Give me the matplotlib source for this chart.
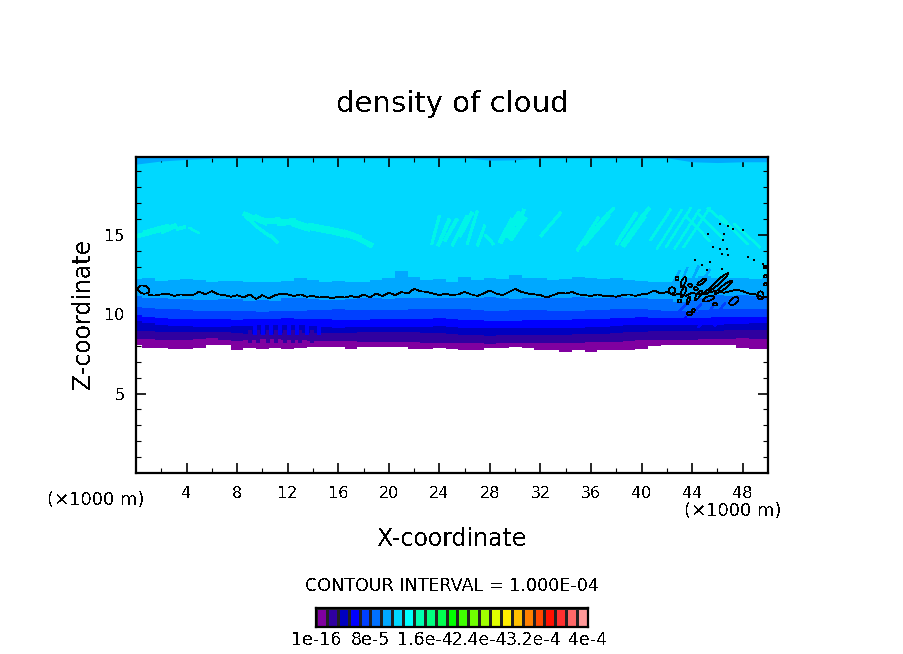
import matplotlib
matplotlib.use("Agg")
import numpy as np
import matplotlib.pyplot as plt
from matplotlib.patches import Ellipse

plt.rcParams['text.antialiased'] = False

# 25 colour cells of the scale
cell_colors = ['#8000a0', '#3000a0', '#0000c0', '#0000ff', '#0040ff', '#0070ff', '#00a8ff', '#00d8ff', '#00ffff',
               '#00ffb0', '#00ff80', '#00ff50', '#00ff00', '#40ff00', '#70ff00', '#a0ff00', '#e0ff00', '#ffee00',
               '#ffc000', '#ff8000', '#ff4800', '#ff1000', '#ff3030', '#ff6868', '#ff9898']
scale_ticks = [0, 5, 10, 15, 20, 25]
scale_labels = ['1e-16', '8e-5', '1.6e-4', '2.4e-4', '3.2e-4', '4e-4']

# lower edge of the cloud, one value per km
edge_km = np.arange(0, 51)
edge_z = [8.05, 7.86, 7.88, 7.84, 7.84, 7.88, 8.05, 8.05, 7.76, 7.86, 7.80, 7.86, 7.80, 7.86, 7.95, 7.95, 7.95,
          7.80, 7.95, 7.95, 7.95, 7.95, 7.80, 7.80, 7.86, 7.80, 7.76, 7.76, 7.86, 7.90, 7.92, 7.86, 7.76, 7.76,
          7.62, 7.76, 7.65, 7.76, 7.76, 7.76, 7.80, 8.00, 8.05, 8.05, 8.05, 8.05, 8.05, 8.05, 7.90, 7.84, 7.84]

# top of each band; the first ones have a value per 2 km, the jagged last two one per km
band_tops = [
    [8.45, 8.40, 8.35, 8.50, 8.30, 8.45, 8.40, 8.30, 8.30, 8.28, 8.25, 8.22, 8.20, 8.18, 8.15, 8.18, 8.20, 8.20,
     8.22, 8.25, 8.35, 8.38, 8.40, 8.42, 8.48, 8.45],
    [8.95, 8.90, 8.85, 8.90, 8.80, 8.75, 8.80, 8.80, 8.82, 8.85, 8.85, 8.85, 8.82, 8.70, 8.65, 8.68, 8.70, 8.72,
     8.75, 8.80, 8.90, 8.95, 8.95, 8.95, 9.00, 9.00],
    [9.55, 9.30, 9.25, 9.20, 9.25, 9.30, 9.35, 9.25, 9.15, 9.20, 9.20, 9.20, 9.25, 9.15, 9.10, 9.12, 9.12, 9.12,
     9.20, 9.25, 9.35, 9.30, 9.35, 9.35, 9.40, 9.45],
    [9.95, 9.75, 9.70, 9.70, 9.65, 9.70, 9.75, 9.70, 9.65, 9.65, 9.70, 9.70, 9.75, 9.65, 9.60, 9.60, 9.65, 9.65,
     9.70, 9.75, 9.80, 9.75, 9.75, 9.80, 9.80, 9.85],
    [10.45, 10.35, 10.25, 10.20, 10.20, 10.15, 10.20, 10.25, 10.30, 10.25, 10.25, 10.30, 10.35, 10.30, 10.20, 10.25,
     10.25, 10.20, 10.25, 10.30, 10.30, 10.20, 10.15, 10.35, 10.30, 10.30],
    [11.15, 11.05, 11.00, 10.95, 10.95, 10.90, 10.90, 10.95, 10.95, 10.85, 10.90, 10.85, 11.05, 11.00, 10.95, 10.90,
     10.90, 10.95, 11.00, 11.05, 10.95, 11.00, 11.00, 11.05, 11.00, 11.05, 11.05, 11.00, 11.10, 11.00, 10.95, 11.05,
     11.05, 11.00, 11.05, 11.10, 11.05, 11.00, 11.10, 11.05, 11.00, 10.95, 10.95, 10.80, 10.90, 11.05, 11.20, 11.15,
     11.20, 11.15, 11.15],
    [12.20, 12.25, 12.10, 12.15, 12.20, 12.15, 12.05, 12.10, 12.10, 12.00, 12.05, 12.00, 12.10, 12.30, 12.15, 12.05,
     12.10, 12.00, 12.05, 12.15, 12.30, 12.70, 12.35, 12.15, 12.20, 12.05, 12.35, 12.15, 12.25, 12.20, 12.45, 12.30,
     12.30, 12.15, 12.20, 12.35, 12.30, 12.20, 12.30, 12.15, 12.10, 12.05, 12.00, 12.10, 12.30, 12.40, 12.30, 12.25,
     12.30, 12.20, 12.25],
]
band_colors = cell_colors[:7]

# strip of the same blue along the top of the frame, one value per 2 km
strip_km = np.arange(0, 51, 2)
strip_z = [19.45, 19.65, 19.75, 19.82, 19.85, 19.85, 19.85, 19.85, 19.85, 19.85, 19.85, 19.85, 19.85, 19.85, 19.70,
           19.72, 19.85, 19.85, 19.85, 19.85, 19.85, 19.85, 19.60, 19.55, 19.60, 19.60]

# light streaks in the upper part: km, z of both ends and width in points
streak_x0 = [0.0, 0.6, 2.0, 3.2, 4.2, 8.5, 9.4, 10.2, 11.2, 12.4, 13.6, 15.0, 16.4, 17.6, 8.6, 9.4, 10.6,
             23.4, 23.9, 24.4, 25.0, 25.6, 26.2, 27.0, 27.6, 28.8, 29.2, 29.6, 30.1, 32.0, 34.9, 35.4, 36.0, 38.0,
             38.5, 39.0, 40.7, 41.2, 41.9, 42.6, 43.3, 43.6, 44.4, 45.2, 46.2, 47.3]
streak_z0 = [14.9, 15.1, 15.2, 15.35, 15.45, 16.35, 16.1, 15.85, 15.75, 15.75, 15.55, 15.35, 15.15, 14.75, 16.2, 15.6,
             15.0, 14.4, 14.3, 14.6, 14.3, 14.9, 14.4, 14.3, 15.0, 14.5, 14.9, 14.7, 15.2, 14.9, 14.0, 14.4, 15.0, 14.4,
             14.3, 15.0, 14.65, 14.1, 14.2, 14.1, 14.2, 16.1, 16.4, 16.7, 16.2, 15.7]
streak_x1 = [1.9, 2.6, 3.2, 3.9, 5.0, 9.4, 10.4, 11.4, 12.6, 13.8, 15.2, 16.6, 17.8, 18.7, 9.6, 10.6, 11.2,
             24.0, 24.8, 25.4, 26.2, 26.6, 27.0, 27.6, 28.3, 29.8, 30.4, 30.8, 30.7, 33.6, 36.6, 37.4, 37.8, 39.6,
             40.2, 40.6, 42.3, 43.2, 43.9, 44.6, 45.4, 45.4, 46.4, 47.4, 48.4, 49.4]
streak_z1 = [15.3, 15.55, 15.6, 15.5, 15.1, 16.05, 15.75, 15.9, 15.85, 15.4, 15.3, 15.05, 14.75, 14.3, 15.5, 14.9,
             14.5, 16.2, 16.0, 16.0, 16.2, 16.4, 16.5, 15.6, 14.4, 16.0, 16.4, 16.1, 16.6, 16.4, 16.1, 16.3, 16.7, 16.4,
             16.2, 16.7, 16.6, 16.6, 16.7, 16.6, 16.7, 14.6, 14.8, 15.2, 14.4, 14.2]
streak_w = [2.5, 3, 3, 2, 1, 2.5, 4, 4, 4, 4.5, 4.5, 4.5, 4, 3, 1.5, 1.5, 1.2,
            1.5, 2, 2, 1.5, 2, 1.5, 1.5, 1.5, 3, 4, 3, 2, 1.5, 1.5, 3, 1.5, 2,
            3.5, 2, 1.2, 1, 1, 1, 1, 1, 1, 1, 1, 1]

# ripples in the low bands near 8-15 km
purple_spike_km = [9.0, 9.66, 10.45, 11.1, 11.76, 12.4, 13.0, 13.9]
blue_spike_km = [9.4, 10.05, 10.7, 11.37, 12.1, 12.7, 13.5, 14.5]

# ripples near the right side: km, z of both ends, band colour index
ripple_x0 = [42.5, 43.2, 44.0, 44.8, 43.0, 44.0, 45.2, 46.0, 43.0, 44.5, 45.8]
ripple_z0 = [12.0, 12.1, 12.2, 12.1, 10.2, 10.0, 9.9, 10.1, 9.4, 9.2, 9.3]
ripple_x1 = [43.0, 43.6, 44.5, 45.4, 43.6, 44.7, 45.7, 46.6, 43.5, 45.0, 46.2]
ripple_z1 = [12.7, 12.9, 13.0, 12.8, 10.7, 10.6, 10.6, 10.7, 9.8, 9.6, 9.7]
ripple_c = [6, 6, 6, 6, 4, 4, 4, 4, 3, 3, 3]

# the black contour
line_km = np.arange(1, 50.5, 0.5)
line_z = [11.20, 11.18, 11.25, 11.30, 11.15, 11.25, 11.20, 11.20, 11.42, 11.25, 11.45, 11.25, 11.20, 11.10, 11.20,
          11.05, 11.25, 10.95, 11.20, 11.00, 11.20, 11.30, 11.25, 11.15, 11.25, 11.10, 11.15, 11.05, 11.10, 11.00,
          11.10, 11.05, 11.15, 11.05, 11.25, 11.05, 11.30, 11.15, 11.35, 11.20, 11.40, 11.30, 11.60, 11.45, 11.40,
          11.30, 11.20, 11.30, 11.20, 11.25, 11.40, 11.25, 11.15, 11.30, 11.50, 11.30, 11.20, 11.40, 11.60, 11.40,
          11.30, 11.25, 11.20, 11.05, 11.20, 11.35, 11.30, 11.40, 11.25, 11.20, 11.15, 11.25, 11.15, 11.15, 11.10,
          11.20, 11.25, 11.15, 11.25, 11.30, 11.50, 11.30, 11.40, 11.20, 11.30, 11.15, 11.35, 11.25, 11.30, 11.40,
          11.50, 11.35, 11.45, 11.55, 11.45, 11.30, 11.25, 11.10, 11.05]

# closed contour loops: centre, size in km, angle
loop_x = [0.6, 46.08, 46.5, 44.76, 43.3, 42.8, 43.84, 44.29, 42.4, 43.3, 44.5, 45.3, 47.3, 45.8, 43.7, 43.0, 43.8, 44.1,
          49.4, 49.8, 49.8, 49.8, 45.16]
loop_z = [11.55, 12.03, 11.7, 12.03, 12.03, 12.24, 11.82, 11.61, 11.5, 11.4, 11.19, 10.98, 10.83, 10.62, 10.88, 10.83,
          10.04, 10.25, 11.19, 12.97, 12.38, 11.88, 11.4]
loop_w = [0.5, 1.9, 1.6, 0.8, 0.7, 0.25, 0.3, 0.3, 0.5, 0.7, 0.8, 0.9, 0.8, 0.4, 0.5, 0.25, 0.4, 0.2, 0.5, 0.3, 0.3, 0.3, 0.5]
loop_h = [0.9, 0.25, 0.25, 0.2, 0.3, 0.2, 0.2, 0.2, 0.4, 0.3, 0.25, 0.3, 0.4, 0.15, 0.2, 0.2, 0.2, 0.2, 0.5, 0.15, 0.15, 0.15, 0.2]
loop_a = [80, 35, 30, 30, 60, 0, 0, 0, 0, 60, 45, 15, 25, 0, 70, 0, 0, 0, 0, 0, 0, 0, 30]

# tiny specks above the loops
dot_km = [46.21, 46.87, 47.27, 48.06, 45.24, 46.48, 46.42, 45.68, 46.21, 46.74, 46.87, 46.34, 48.45, 48.9, 49.64, 44.23,
          45.42, 44.76, 45.16, 46.34]
dot_z = [15.66, 15.53, 15.38, 15.28, 15.03, 15.07, 14.65, 14.23, 14.13, 14.13, 13.71, 13.81, 13.6, 13.39, 13.18, 13.43,
         13.29, 13.08, 12.76, 12.87]

W, H = 904, 654
fig = plt.figure(figsize=(W / 100, H / 100), dpi=100)
ax = fig.add_axes([136 / W, 1 - 473 / H, 632 / W, 316 / H])
ax.set_xlim(0, 50)
ax.set_ylim(0, 19.9)

# bands are painted bottom up, each one reaching to the top
top = 19.9
ax.fill_between(edge_km, edge_z, top, color=cell_colors[7], lw=0, step='mid', antialiased=False, zorder=1)
for i, tops in enumerate(band_tops):
    band_km = np.linspace(0, 50, len(tops))
    ax.fill_between(edge_km, edge_z, np.interp(edge_km, band_km, tops), color=band_colors[i], lw=0, step='mid',
                    antialiased=False, zorder=3 - i * 0.1)
ax.fill_between(strip_km, strip_z, top, color=band_colors[6], lw=0, antialiased=False, zorder=3)

for x0, z0, x1, z1, w in zip(streak_x0, streak_z0, streak_x1, streak_z1, streak_w):
    ax.plot([x0, x1], [z0, z1], color='#00f4e8', lw=w, antialiased=False, solid_capstyle='butt', zorder=4)

ax.vlines(purple_spike_km, 8.2, 9.0, color=cell_colors[1], lw=1.5, antialiased=False, zorder=4)
ax.vlines(blue_spike_km, 8.7, 9.5, color=cell_colors[3], lw=1.5, antialiased=False, zorder=4)
for x0, z0, x1, z1, c in zip(ripple_x0, ripple_z0, ripple_x1, ripple_z1, ripple_c):
    ax.plot([x0, x1], [z0, z1], color=cell_colors[c], lw=1, antialiased=False, zorder=4)

ax.plot(line_km, line_z, color='k', lw=0.5, antialiased=False, zorder=5)
for x, z, w, h, a in zip(loop_x, loop_z, loop_w, loop_h, loop_a):
    ax.add_patch(Ellipse((x, z), w, h, angle=a, fill=False, ec='k', lw=0.5, antialiased=False, zorder=5))
ax.scatter(dot_km, dot_z, s=3, c='k', marker='s', lw=0, antialiased=False, zorder=5)

ax.set_xticks(np.arange(4, 49, 4))
ax.set_xticks(np.arange(2, 50, 2), minor=True)
ax.set_yticks([5, 10, 15])
ax.set_yticks(np.arange(1, 20, 1), minor=True)
ax.tick_params(which='major', direction='in', length=7, width=1.2, top=True, right=True, labelsize=11.5, pad=9)
ax.tick_params(which='minor', direction='in', length=3.5, width=0.8, top=True, right=True)
ax.tick_params(axis='y', which='major', pad=8)
for s in ax.spines.values():
    s.set_linewidth(1.6)
    s.set_zorder(10)


def label(px, py, s, size, **kw):
    fig.text(px / W, 1 - py / H, s, fontsize=size, ha='center', va='center', **kw)


label(452, 104, 'density of cloud', 21)
label(452, 539, 'X-coordinate', 17)
label(83, 314, 'Z-coordinate', 17, rotation=90)
label(96, 500, '(×1000 m)', 13)
label(733, 511, '(×1000 m)', 13)
label(452, 586, 'CONTOUR INTERVAL = 1.000E-04', 12.6)

# colour scale
cax = fig.add_axes([316 / W, 1 - 627 / H, 272 / W, 19 / H])
for i, c in enumerate(cell_colors):
    cax.bar(i + 0.5, 1, width=1, color=c, edgecolor='#202020', lw=0.8, antialiased=False)
cax.set_xlim(0, 25)
cax.set_ylim(0, 1)
cax.set_yticks([])
cax.set_xticks(scale_ticks)
cax.set_xticklabels(scale_labels)
cax.tick_params(axis='x', length=0, labelsize=12.5, pad=3)
for s in cax.spines.values():
    s.set_linewidth(1.6)

fig.savefig('out.png', dpi=100)
